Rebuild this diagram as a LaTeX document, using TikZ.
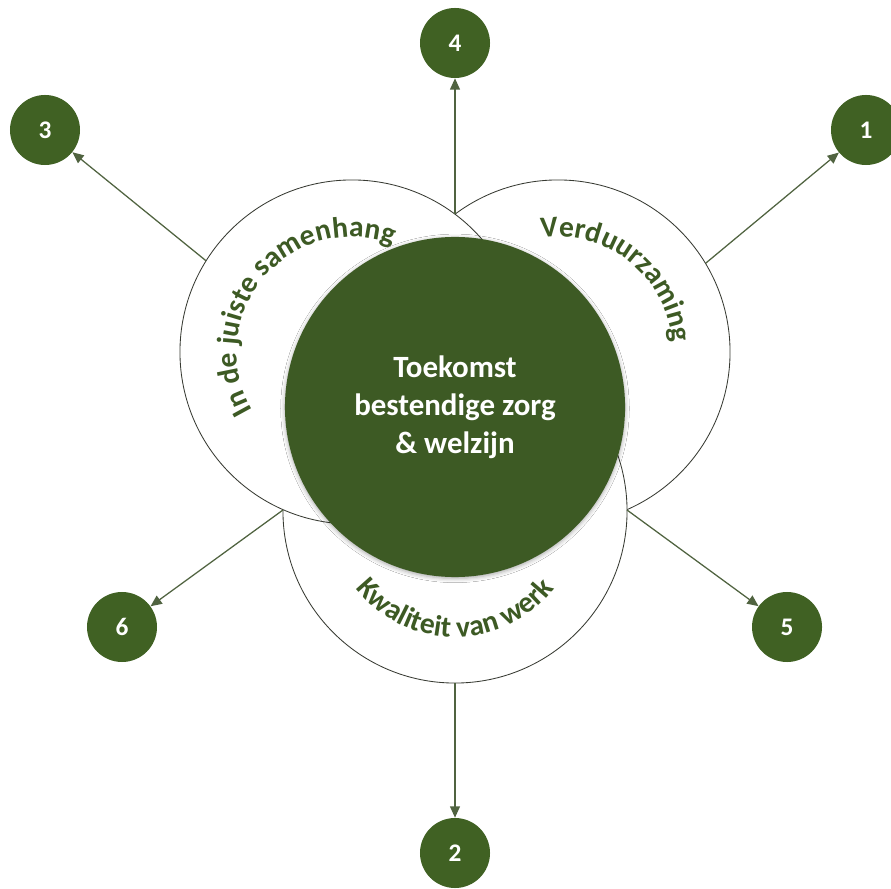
\documentclass[tikz,border=0pt]{standalone}
\usepackage{fontspec}
\setmainfont{Carlito}
\usetikzlibrary{arrows.meta,decorations.text,shadows.blur}

\definecolor{darkgreen}{RGB}{61,90,36}
\definecolor{numgreen}{RGB}{64,97,35}
\definecolor{linegreen}{RGB}{80,99,64}
\definecolor{ringgray}{RGB}{55,58,50}

\newcommand{\ringfont}{\fontsize{21}{25}\selectfont\bfseries}

\begin{document}
\begin{tikzpicture}[x=0.025cm,y=0.025cm,every node/.style={font=\bfseries},
    ring/.style={circle,draw=ringgray,line width=0.6pt,fill=white,minimum size=8.6cm,inner sep=0pt,outer sep=0pt},
    core/.style={circle,fill=darkgreen,minimum size=8.5cm,text=white,align=center,font=\fontsize{22}{27}\selectfont\bfseries,
      blur shadow={shadow xshift=0pt,shadow yshift=-1pt,shadow blur radius=3pt,shadow opacity=35}},
    num/.style={circle,fill=numgreen,minimum size=1.75cm,inner sep=0pt,text=white,font=\fontsize{18}{20}\selectfont\bfseries},
    arr/.style={draw=linegreen,line width=0.9pt,-{Triangle[length=8pt,width=7pt]}},
    curved/.style={decorate,decoration={text along path,text align=center,text color=darkgreen,text={|\ringfont|#1}}}]

    \useasboundingbox (0,0) rectangle (891,888);

    \node[ring] (RIGHT) at (558,536) {};
    \node[ring] (BOTTOM) at (455,377) {};
    \node[ring] (LEFT) at (352,536) {};
    \node[core] (CORE) at (455,481) {Toekomst\\bestendige zorg\\\& welzijn};

    \path[curved={In de juiste samenhang}] (LEFT.center) ++(210:115) arc[start angle=210,end angle=70,radius=115];
    \path[curved={Verduurzaming}] (RIGHT.center) ++(100:115) arc[start angle=100,end angle=3,radius=115];
    \path[curved={Kwaliteit van werk}] (BOTTOM.center) ++(198:126) arc[start angle=198,end angle=342,radius=126];

    \node[num] (N1) at (866,758) {1};
    \node[num] (N2) at (455,35) {2};
    \node[num] (N3) at (45,758) {3};
    \node[num] (N4) at (455,845) {4};
    \node[num] (N5) at (787,261) {5};
    \node[num] (N6) at (122,261) {6};

    \coordinate (TOPJ) at (455,674);
    \coordinate (LOWL) at (283,378);
    \coordinate (LOWR) at (627,378);

    \path[arr] (RIGHT.31.5) -- (N1);
    \path[arr] (BOTTOM.south) -- (N2);
    \path[arr] (LEFT.148.5) -- (N3);
    \path[arr] (TOPJ) -- (N4);
    \path[arr] (LOWR) -- (N5);
    \path[arr] (LOWL) -- (N6);
\end{tikzpicture}
\end{document}
